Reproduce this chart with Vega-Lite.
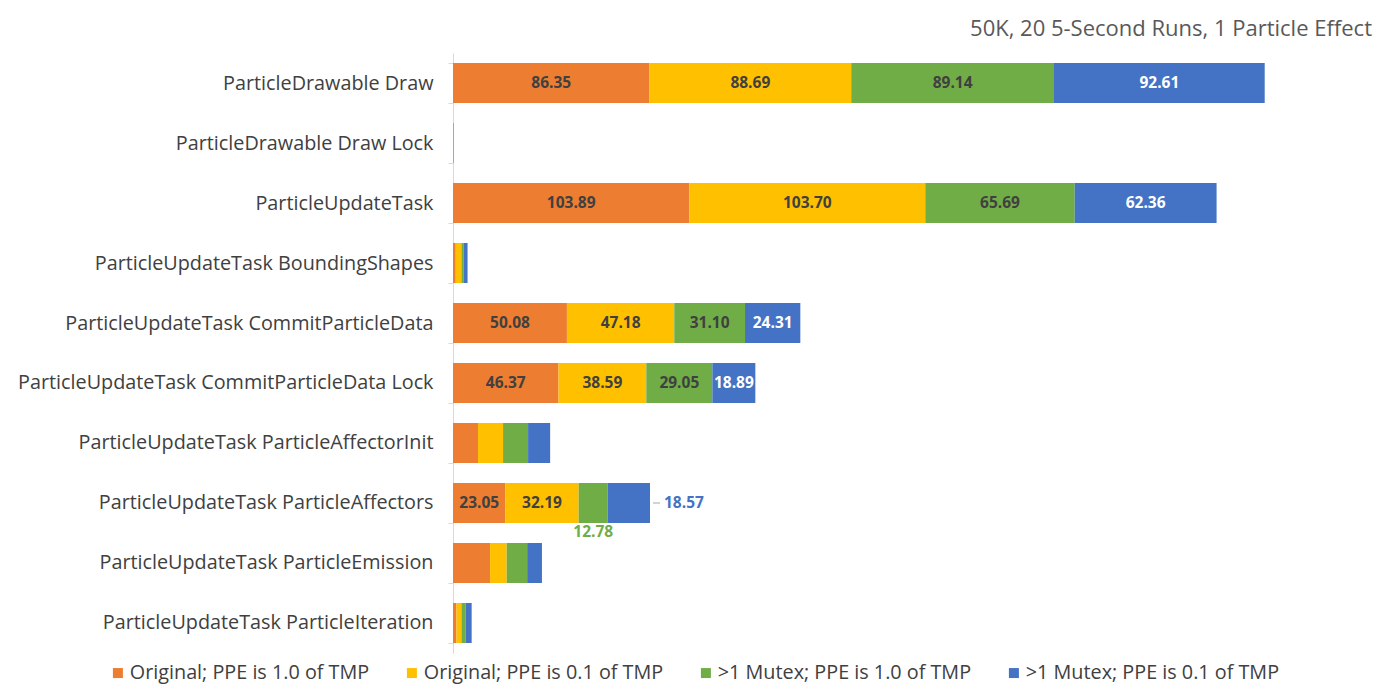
{
  "$schema": "https://vega.github.io/schema/vega-lite/v6.json",
  "width": 910,
  "height": 600,
  "autosize": "none",
  "padding": {"left": 453, "top": 53, "right": 14, "bottom": 45},
  "background": "white",
  "title": {"text": "50K, 20 5-Second Runs, 1 Particle Effect", "anchor": "end", "orient": "top", "font": "Open Sans", "fontSize": 22, "fontWeight": "normal", "color": "#595959", "offset": 2, "dx": 9},
  "data": {"values": [
    {"category": "ParticleDrawable Draw", "series": "Original; PPE is 1.0 of TMP", "order": 1, "value": 86.35},
    {"category": "ParticleDrawable Draw", "series": "Original; PPE is 0.1 of TMP", "order": 2, "value": 88.69},
    {"category": "ParticleDrawable Draw", "series": ">1 Mutex; PPE is 1.0 of TMP", "order": 3, "value": 89.14},
    {"category": "ParticleDrawable Draw", "series": ">1 Mutex; PPE is 0.1 of TMP", "order": 4, "value": 92.61},
    {"category": "ParticleDrawable Draw Lock", "series": "Original; PPE is 1.0 of TMP", "order": 1, "value": 0.1},
    {"category": "ParticleDrawable Draw Lock", "series": "Original; PPE is 0.1 of TMP", "order": 2, "value": 0.1},
    {"category": "ParticleDrawable Draw Lock", "series": ">1 Mutex; PPE is 1.0 of TMP", "order": 3, "value": 0.1},
    {"category": "ParticleDrawable Draw Lock", "series": ">1 Mutex; PPE is 0.1 of TMP", "order": 4, "value": 0.1},
    {"category": "ParticleUpdateTask", "series": "Original; PPE is 1.0 of TMP", "order": 1, "value": 103.89},
    {"category": "ParticleUpdateTask", "series": "Original; PPE is 0.1 of TMP", "order": 2, "value": 103.70},
    {"category": "ParticleUpdateTask", "series": ">1 Mutex; PPE is 1.0 of TMP", "order": 3, "value": 65.69},
    {"category": "ParticleUpdateTask", "series": ">1 Mutex; PPE is 0.1 of TMP", "order": 4, "value": 62.36},
    {"category": "ParticleUpdateTask BoundingShapes", "series": "Original; PPE is 1.0 of TMP", "order": 1, "value": 1.2},
    {"category": "ParticleUpdateTask BoundingShapes", "series": "Original; PPE is 0.1 of TMP", "order": 2, "value": 2.5},
    {"category": "ParticleUpdateTask BoundingShapes", "series": ">1 Mutex; PPE is 1.0 of TMP", "order": 3, "value": 0.9},
    {"category": "ParticleUpdateTask BoundingShapes", "series": ">1 Mutex; PPE is 0.1 of TMP", "order": 4, "value": 1.8},
    {"category": "ParticleUpdateTask CommitParticleData", "series": "Original; PPE is 1.0 of TMP", "order": 1, "value": 50.08},
    {"category": "ParticleUpdateTask CommitParticleData", "series": "Original; PPE is 0.1 of TMP", "order": 2, "value": 47.18},
    {"category": "ParticleUpdateTask CommitParticleData", "series": ">1 Mutex; PPE is 1.0 of TMP", "order": 3, "value": 31.10},
    {"category": "ParticleUpdateTask CommitParticleData", "series": ">1 Mutex; PPE is 0.1 of TMP", "order": 4, "value": 24.31},
    {"category": "ParticleUpdateTask CommitParticleData Lock", "series": "Original; PPE is 1.0 of TMP", "order": 1, "value": 46.37},
    {"category": "ParticleUpdateTask CommitParticleData Lock", "series": "Original; PPE is 0.1 of TMP", "order": 2, "value": 38.59},
    {"category": "ParticleUpdateTask CommitParticleData Lock", "series": ">1 Mutex; PPE is 1.0 of TMP", "order": 3, "value": 29.05},
    {"category": "ParticleUpdateTask CommitParticleData Lock", "series": ">1 Mutex; PPE is 0.1 of TMP", "order": 4, "value": 18.89},
    {"category": "ParticleUpdateTask ParticleAffectorInit", "series": "Original; PPE is 1.0 of TMP", "order": 1, "value": 11.0},
    {"category": "ParticleUpdateTask ParticleAffectorInit", "series": "Original; PPE is 0.1 of TMP", "order": 2, "value": 11.0},
    {"category": "ParticleUpdateTask ParticleAffectorInit", "series": ">1 Mutex; PPE is 1.0 of TMP", "order": 3, "value": 11.0},
    {"category": "ParticleUpdateTask ParticleAffectorInit", "series": ">1 Mutex; PPE is 0.1 of TMP", "order": 4, "value": 9.7},
    {"category": "ParticleUpdateTask ParticleAffectors", "series": "Original; PPE is 1.0 of TMP", "order": 1, "value": 23.05},
    {"category": "ParticleUpdateTask ParticleAffectors", "series": "Original; PPE is 0.1 of TMP", "order": 2, "value": 32.19},
    {"category": "ParticleUpdateTask ParticleAffectors", "series": ">1 Mutex; PPE is 1.0 of TMP", "order": 3, "value": 12.78},
    {"category": "ParticleUpdateTask ParticleAffectors", "series": ">1 Mutex; PPE is 0.1 of TMP", "order": 4, "value": 18.57},
    {"category": "ParticleUpdateTask ParticleEmission", "series": "Original; PPE is 1.0 of TMP", "order": 1, "value": 16.3},
    {"category": "ParticleUpdateTask ParticleEmission", "series": "Original; PPE is 0.1 of TMP", "order": 2, "value": 7.3},
    {"category": "ParticleUpdateTask ParticleEmission", "series": ">1 Mutex; PPE is 1.0 of TMP", "order": 3, "value": 9.0},
    {"category": "ParticleUpdateTask ParticleEmission", "series": ">1 Mutex; PPE is 0.1 of TMP", "order": 4, "value": 6.5},
    {"category": "ParticleUpdateTask ParticleIteration", "series": "Original; PPE is 1.0 of TMP", "order": 1, "value": 1.5},
    {"category": "ParticleUpdateTask ParticleIteration", "series": "Original; PPE is 0.1 of TMP", "order": 2, "value": 2.2},
    {"category": "ParticleUpdateTask ParticleIteration", "series": ">1 Mutex; PPE is 1.0 of TMP", "order": 3, "value": 1.9},
    {"category": "ParticleUpdateTask ParticleIteration", "series": ">1 Mutex; PPE is 0.1 of TMP", "order": 4, "value": 2.6}
  ]},
  "transform": [
    {"stack": "value", "groupby": ["category"], "sort": [{"field": "order", "order": "ascending"}], "as": ["v0", "v1"]},
    {"calculate": "(datum.v0 + datum.v1) / 2", "as": "mid"}
  ],
  "encoding": {
    "y": {
      "field": "category", "type": "nominal", "sort": null,
      "scale": {"paddingInner": 0.3333, "paddingOuter": 0.1667},
      "axis": {
        "title": null, "domain": true, "domainColor": "#D9D9D9", "ticks": true, "tickBand": "extent",
        "tickColor": "#D9D9D9", "tickSize": 5, "labelFont": "Open Sans", "labelFontSize": 19.8,
        "labelColor": "#404040", "labelPadding": 15, "labelLimit": 0, "grid": false
      }
    }
  },
  "layer": [
    {
      "mark": {"type": "bar"},
      "encoding": {
        "x": {"field": "v0", "type": "quantitative", "scale": {"domain": [0, 400], "nice": false}, "axis": null},
        "x2": {"field": "v1"},
        "color": {
          "field": "series", "type": "nominal",
          "scale": {
            "domain": ["Original; PPE is 1.0 of TMP", "Original; PPE is 0.1 of TMP", ">1 Mutex; PPE is 1.0 of TMP", ">1 Mutex; PPE is 0.1 of TMP"],
            "range": ["#ED7D31", "#FFC000", "#70AD47", "#4472C4"]
          },
          "legend": {
            "title": null, "orient": "none", "legendX": -345, "legendY": 610, "direction": "horizontal",
            "symbolType": "square", "symbolSize": 100, "symbolStrokeWidth": 0,
            "labelFont": "Open Sans", "labelFontSize": 19.8, "labelColor": "#404040",
            "columnPadding": 32, "labelOffset": 2, "labelLimit": 0
          }
        }
      }
    },
    {
      "transform": [
        {"filter": "indexof(['ParticleDrawable Draw','ParticleUpdateTask','ParticleUpdateTask CommitParticleData','ParticleUpdateTask CommitParticleData Lock'], datum.category) >= 0 || (datum.category === 'ParticleUpdateTask ParticleAffectors' && datum.order <= 2)"}
      ],
      "mark": {"type": "text", "font": "Open Sans", "fontSize": 15.5, "fontWeight": "bold", "baseline": "middle", "align": "center"},
      "encoding": {
        "x": {"field": "mid", "type": "quantitative"},
        "text": {"field": "value", "type": "quantitative", "format": ".2f"},
        "color": {"condition": {"test": "datum.order === 4", "value": "#FFFFFF"}, "value": "#404040"}
      }
    },
    {
      "transform": [
        {"filter": "datum.category === 'ParticleUpdateTask ParticleAffectors' && datum.order === 3"}
      ],
      "mark": {"type": "text", "font": "Open Sans", "fontSize": 15.5, "fontWeight": "bold", "baseline": "middle", "align": "center", "dy": 29, "color": "#70AD47"},
      "encoding": {
        "x": {"field": "mid", "type": "quantitative"},
        "text": {"field": "value", "type": "quantitative", "format": ".2f"}
      }
    },
    {
      "transform": [
        {"filter": "datum.category === 'ParticleUpdateTask ParticleAffectors' && datum.order === 4"}
      ],
      "mark": {"type": "text", "font": "Open Sans", "fontSize": 15.5, "fontWeight": "bold", "baseline": "middle", "align": "left", "dx": 14, "color": "#4472C4"},
      "encoding": {
        "x": {"field": "v1", "type": "quantitative"},
        "text": {"field": "value", "type": "quantitative", "format": ".2f"}
      }
    },
    {
      "transform": [
        {"filter": "datum.category === 'ParticleUpdateTask ParticleAffectors' && datum.order === 4"}
      ],
      "mark": {"type": "rule", "color": "#A6A6A6", "strokeWidth": 1, "xOffset": 3, "x2Offset": 10},
      "encoding": {
        "x": {"field": "v1", "type": "quantitative"},
        "x2": {"field": "v1"}
      }
    }
  ],
  "config": {"view": {"stroke": null}}
}
